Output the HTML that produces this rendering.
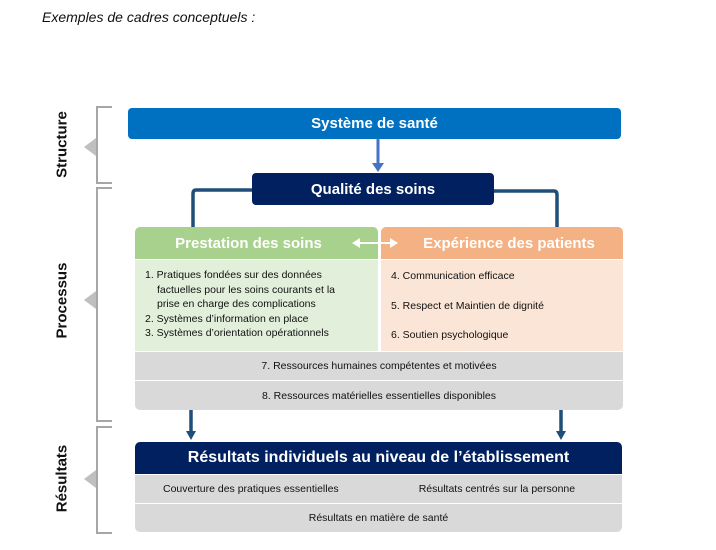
<!DOCTYPE html>
<html><head><meta charset="utf-8"><style>
body{margin:0;width:716px;height:550px;background:#fff;position:relative;font-family:"Liberation Sans",sans-serif;overflow:hidden}
.a{position:absolute;box-sizing:border-box}
.h{color:#fff;font-weight:bold;text-align:center;display:flex;align-items:center;justify-content:center}
.g{background:#d9d9d9;font-size:10.5px;color:#111;display:flex;align-items:center;justify-content:center}
.v{position:absolute;font-weight:bold;font-size:15px;color:#111;transform:rotate(-90deg);transform-origin:center;white-space:nowrap}
.t{font-size:10.5px;color:#111;line-height:14.5px}
</style></head><body>
<div class="a" style="left:42px;top:9px;font-style:italic;font-size:14px;color:#111">Exemples de cadres conceptuels :</div>
<svg class="a" style="left:0;top:0" width="716" height="550">
<g fill="none" stroke="#a6a6a6" stroke-width="2">
<path d="M112 107H97V183H112"/><path d="M112 188H97V421H112"/><path d="M112 427H97V533H112"/>
</g>
<g fill="#bfbfbf"><path d="M96 138L84 147L96 156Z"/><path d="M96 291L84 300L96 309Z"/><path d="M96 470L84 479L96 488Z"/></g>
<path d="M378 139V164" stroke="#4472c4" stroke-width="3"/><path d="M372 163L378 172L384 163Z" fill="#4472c4"/>
<g fill="none" stroke="#1f4e79" stroke-width="3.5"><path d="M252 190H196Q193 190 193 194V227"/><path d="M494 191H554Q557 191 557 195V227"/>
<path d="M191 410V432"/><path d="M561 410V432"/></g>
<g fill="#1f4e79"><path d="M186 431L191 440L196 431Z"/><path d="M556 431L561 440L566 431Z"/></g>
</svg>
<div class="v" style="left:22px;top:136px;width:80px;text-align:center">Structure</div>
<div class="v" style="left:22px;top:292px;width:80px;text-align:center">Processus</div>
<div class="v" style="left:22px;top:470px;width:80px;text-align:center">Résultats</div>
<div class="a h" style="left:128px;top:108px;width:493px;height:31px;background:#0070c0;border-radius:4px;font-size:15px">Système de santé</div>
<div class="a h" style="left:252px;top:173px;width:242px;height:32px;background:#002060;border-radius:4px;font-size:15px">Qualité des soins</div>
<div class="a h" style="left:135px;top:227px;width:243px;height:32px;background:#a9d18e;border-radius:5px 5px 0 0;font-size:15px;padding-right:16px">Prestation des soins</div>
<div class="a h" style="left:381px;top:227px;width:242px;height:32px;background:#f4b183;border-radius:5px 5px 0 0;font-size:15px;padding-left:14px">Expérience des patients</div>
<svg class="a" style="left:350px;top:236px" width="50" height="14"><path d="M9 7H41" stroke="#fff" stroke-width="2"/><path d="M2 7L10 2V12Z M48 7L40 2V12Z" fill="#fff"/></svg>
<div class="a t" style="left:135px;top:260px;width:243px;height:91px;background:#e2efda;padding:8px 0 0 10px">1. Pratiques fondées sur des données<br><span style="padding-left:12px">factuelles pour les soins courants et la</span><br><span style="padding-left:12px">prise en charge des complications</span><br>2. Systèmes d’information en place<br>3. Systèmes d’orientation opérationnels</div>
<div class="a t" style="left:381px;top:260px;width:242px;height:91px;background:#fbe5d6;padding:2px 0 0 10px;line-height:29.5px">4. Communication efficace<br>5. Respect et Maintien de dignité<br>6. Soutien psychologique</div>
<div class="a g" style="left:135px;top:352px;width:488px;height:28px">7. Ressources humaines compétentes et motivées</div>
<div class="a g" style="left:135px;top:381px;width:488px;height:29px;border-radius:0 0 5px 5px">8. Ressources matérielles essentielles disponibles</div>
<div class="a h" style="left:135px;top:442px;width:487px;height:32px;background:#002060;border-radius:5px 5px 0 0;font-size:16px">Résultats individuels au niveau de l’établissement</div>
<div class="a g" style="left:135px;top:475px;width:487px;height:28px;justify-content:flex-start"><span style="margin-left:28px">Couverture des pratiques essentielles</span><span style="margin-left:80px">Résultats centrés sur la personne</span></div>
<div class="a g" style="left:135px;top:504px;width:487px;height:28px;border-radius:0 0 5px 5px">Résultats en matière de santé</div>
</body></html>
